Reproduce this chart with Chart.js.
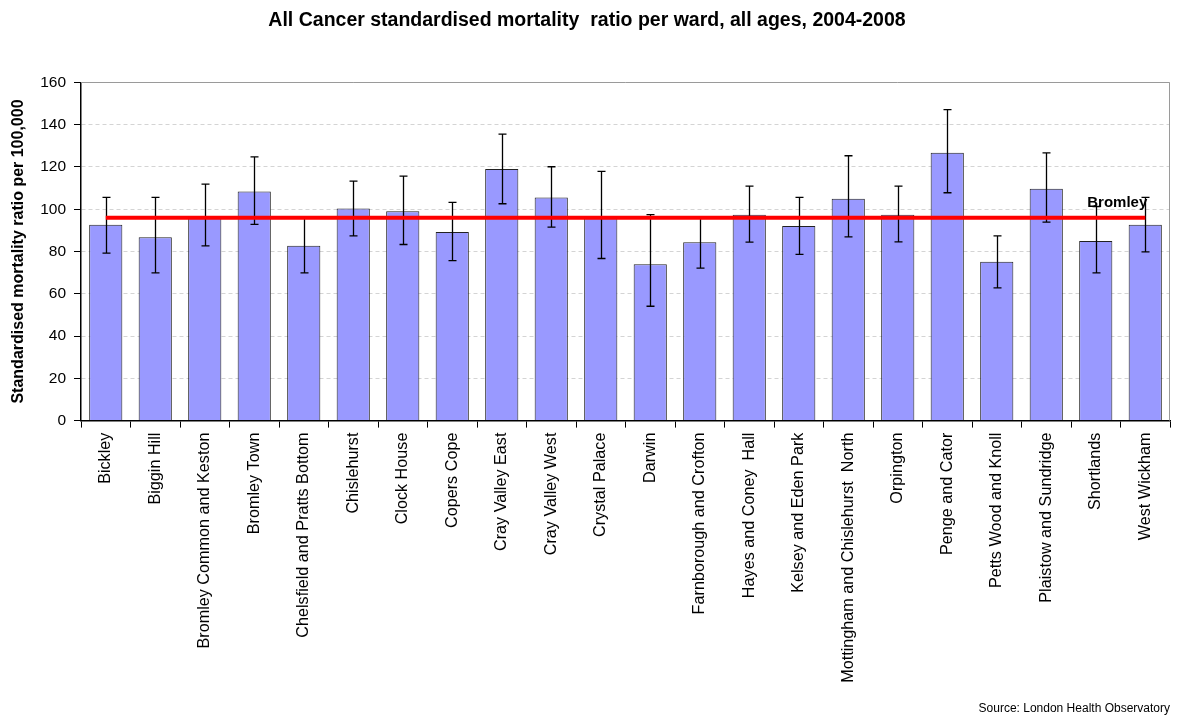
<!DOCTYPE html>
<html>
<head>
<meta charset="utf-8">
<script src="https://cdn.jsdelivr.net/npm/chart.js@4.4.1/dist/chart.umd.min.js"></script>
<style>
  html, body { margin: 0; padding: 0; background: #fff; }
  #wrap { width: 1186px; height: 718px; }
</style>
</head>
<body>
<div id="wrap"><canvas id="c" width="1186" height="718"></canvas></div>
<script>
// Ward names (Bromley borough)
const wards = [
  "Bickley", "Biggin Hill", "Bromley Common and Keston", "Bromley Town",
  "Chelsfield and Pratts Bottom", "Chislehurst", "Clock House", "Copers Cope",
  "Cray Valley East", "Cray Valley West", "Crystal Palace", "Darwin",
  "Farnborough and Crofton", "Hayes and Coney  Hall", "Kelsey and Eden Park",
  "Mottingham and Chislehurst  North", "Orpington", "Penge and Cator",
  "Petts Wood and Knoll", "Plaistow and Sundridge", "Shortlands", "West Wickham"
];

// Standardised mortality ratio per ward
const smr = [92.6, 86.8, 96, 108.4, 82.7, 100.4, 99.1, 89.2, 119.0, 105.6, 96.3,
             74.0, 84.4, 97.4, 92.1, 104.9, 97.4, 126.7, 75.1, 109.7, 85.0, 92.6];

// 95% confidence interval bounds
const ciLower = [79.2, 69.9, 82.7, 92.8, 69.9, 87.4, 83.3, 75.7, 102.6, 91.5, 76.7,
                 54.1, 72.1, 84.4, 78.6, 86.9, 84.6, 107.8, 62.8, 93.9, 69.9, 79.8];
const ciUpper = [105.6, 105.6, 111.9, 124.8, 96.0, 113.3, 115.7, 103.2, 135.5, 120.1, 117.9,
                 97.4, 96.0, 110.9, 105.6, 125.3, 110.9, 147.1, 87.4, 126.7, 101.3, 105.6];

// Borough-wide average
const boroughName = "Bromley";
const boroughSmr = 96;

const yTicks = [0, 20, 40, 60, 80, 100, 120, 140, 160];

const FONT = "'Liberation Sans', Arial, sans-serif";

// Whiskers for the confidence intervals, drawn right after the bars
const errorBars = {
  id: 'errorBars',
  afterDatasetDraw(chart, args) {
    if (args.index !== 0) return;
    const { ctx, scales: { x, y } } = chart;
    ctx.save();
    ctx.strokeStyle = '#000';
    ctx.lineWidth = 1.3;
    const cap = 4;
    smr.forEach((v, i) => {
      const px = Math.round(x.getPixelForValue(i)) + 0.5;
      const lo = y.getPixelForValue(ciLower[i]);
      const hi = y.getPixelForValue(ciUpper[i]);
      ctx.beginPath();
      ctx.moveTo(px, lo); ctx.lineTo(px, hi);
      ctx.moveTo(px - cap, hi); ctx.lineTo(px + cap, hi);
      ctx.moveTo(px - cap, lo); ctx.lineTo(px + cap, lo);
      ctx.stroke();
    });
    ctx.restore();
  }
};

// Plot frame and the borough label on the average line
const frameAndLabel = {
  id: 'frameAndLabel',
  beforeDatasetsDraw(chart) {
    const { ctx, chartArea: a } = chart;
    ctx.save();
    ctx.strokeStyle = '#9a9a9a';
    ctx.lineWidth = 1;
    ctx.beginPath();
    ctx.moveTo(a.left, Math.round(a.top) + 0.5);
    ctx.lineTo(Math.round(a.right) - 0.5, Math.round(a.top) + 0.5);
    ctx.lineTo(Math.round(a.right) - 0.5, a.bottom);
    ctx.stroke();
    ctx.restore();
  },
  afterDraw(chart) {
    const { ctx, scales: { x, y } } = chart;
    ctx.save();
    ctx.font = 'bold 15px ' + FONT;
    ctx.fillStyle = '#000';
    ctx.textAlign = 'right';
    ctx.textBaseline = 'bottom';
    ctx.fillText(boroughName, x.getPixelForValue(wards.length - 1) + 2, y.getPixelForValue(boroughSmr) - 7);
    ctx.restore();
  }
};

new Chart(document.getElementById('c'), {
  data: {
    labels: wards,
    datasets: [
      {
        type: 'bar',
        label: 'SMR',
        data: smr,
        backgroundColor: '#9999FF',
        borderColor: '#222',
        borderWidth: 1,
        categoryPercentage: 0.67,
        barPercentage: 1.0,
        order: 2
      },
      {
        type: 'line',
        label: boroughName,
        data: wards.map(() => boroughSmr),
        borderColor: '#FF0000',
        borderWidth: 4,
        pointRadius: 0,
        fill: false,
        order: 1
      }
    ]
  },
  options: {
    responsive: false,
    animation: false,
    devicePixelRatio: 1,
    layout: { padding: { left: 4, right: 16, top: 0, bottom: 0 } },
    plugins: {
      legend: { display: false },
      tooltip: { enabled: false },
      title: {
        display: true,
        text: 'All Cancer standardised mortality  ratio per ward, all ages, 2004-2008',
        color: '#000',
        font: { family: FONT, size: 19.5, weight: 'bold' },
        padding: { top: 9, bottom: 50 }
      },
      subtitle: {
        display: true,
        position: 'bottom',
        align: 'end',
        text: 'Source: London Health Observatory',
        color: '#000',
        font: { family: FONT, size: 12 },
        padding: { top: 0, bottom: 2 }
      }
    },
    scales: {
      x: {
        offset: true,
        grid: { offset: true, drawOnChartArea: false, drawTicks: true, tickLength: 7, color: '#000' },
        border: { display: true, color: '#000', width: 1.5 },
        ticks: {
          autoSkip: false,
          maxRotation: 90,
          minRotation: 90,
          padding: 5,
          color: '#000',
          font: { family: FONT, size: 16.2 }
        },
        afterFit(s) { s.height = 281; }
      },
      y: {
        min: 0,
        max: 160,
        afterBuildTicks(s) { s.ticks = yTicks.map(v => ({ value: v })); },
        grid: {
          color: '#d4d4d4',
          tickColor: '#000',
          tickLength: 7,
          tickBorderDash: [],
          lineWidth: 1
        },
        border: { display: true, color: '#000', width: 1.5, dash: [4, 3] },
        ticks: {
          padding: 8,
          color: '#000',
          font: { family: FONT, size: 15.5 }
        },
        title: {
          display: true,
          text: 'Standardised mortality ratio per 100,000',
          color: '#000',
          font: { family: FONT, size: 16, weight: 'bold' },
          padding: { top: 5, bottom: 2 }
        },
        afterFit(s) { s.width = 77; }
      }
    }
  },
  plugins: [errorBars, frameAndLabel]
});
</script>
</body>
</html>
